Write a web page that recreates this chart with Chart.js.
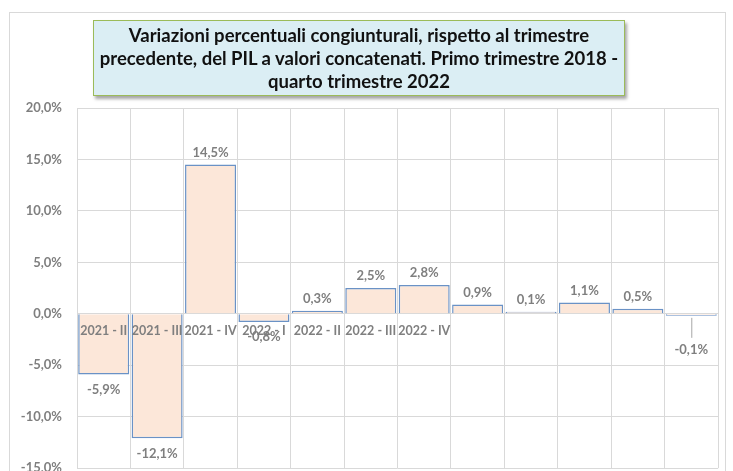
<!DOCTYPE html>
<html>
<head>
<meta charset="utf-8">
<script src="https://cdn.jsdelivr.net/npm/chart.js@4"></script>
<style>
  html, body { margin: 0; padding: 0; background: #fff; overflow: hidden; }
  #wrap { position: relative; width: 733px; height: 471px; overflow: hidden; }
  #frame { position: absolute; left: 9px; top: 12px; width: 715px; height: 480px; border: 1px solid #d9d9d9; }
  #box { position: absolute; left: 0; top: 0; width: 733px; height: 491px; }
  #title {
    position: absolute; left: 93px; top: 20px; width: 530px; height: 74px;
    background: #dbeef4; border: 1px solid #9bbb59;
    box-shadow: 2px 3px 3px rgba(0,0,0,.35);
    font: bold 18.5px Lato, sans-serif; line-height: 23px; color: #111;
    white-space: nowrap;
    text-align: center; display: flex; align-items: center; justify-content: center;
  }
</style>
</head>
<body>
<div id="wrap">
  <div id="frame"></div>
  <div id="box"><canvas id="pilChart"></canvas></div>
  <div id="title"><div>Variazioni percentuali congiunturali, rispetto al trimestre<br>precedente, del PIL a valori concatenati. Primo trimestre 2018 -<br>quarto trimestre 2022</div></div>
</div>
<script>
const categories = ['2021 - II', '2021 - III', '2021 - IV', '2022 - I', '2022 - II', '2022 - III', '2022 - IV', '', '', '', '', ''];
const values = [-5.9, -12.1, 14.5, -0.8, 0.3, 2.5, 2.8, 0.9, 0.1, 1.1, 0.5, -0.1];
const yTicks = [-15, -10, -5, 0, 5, 10, 15, 20];

const grey = '#7f7f7f';
const fmt = v => v.toFixed(1).replace('.', ',') + '%';

// etichette dei valori sopra / sotto le barre
const valueLabels = {
  id: 'valueLabels',
  afterDatasetsDraw(chart) {
    const ctx = chart.ctx;
    const meta = chart.getDatasetMeta(0);
    ctx.save();
    ctx.font = 'bold 13px Lato';
    ctx.fillStyle = grey;
    ctx.textAlign = 'center';
    ctx.textBaseline = 'middle';
    meta.data.forEach((bar, i) => {
      const v = values[i];
      if (v >= 0) {
        ctx.fillText(fmt(v), bar.x, bar.y - 12);
      } else if (Math.abs(bar.y - bar.base) < 3) {
        // barra troppo piccola: etichetta spostata con linea guida
        ctx.strokeStyle = '#a6a6a6';
        ctx.lineWidth = 1;
        ctx.beginPath();
        ctx.moveTo(bar.x + 0.5, bar.y + 2);
        ctx.lineTo(bar.x + 0.5, bar.y + 22);
        ctx.stroke();
        ctx.fillText(fmt(v), bar.x, bar.y + 34);
      } else {
        ctx.fillText(fmt(v), bar.x, bar.y + 15);
      }
    });
    ctx.restore();
  }
};

new Chart(document.getElementById('pilChart'), {
  type: 'bar',
  data: {
    labels: categories,
    datasets: [{
      data: values,
      backgroundColor: '#fce7d9',
      borderColor: '#6a92c6',
      borderWidth: 1.5,
      minBarLength: 2,
      categoryPercentage: 1,
      barPercentage: 0.955
    }]
  },
  options: {
    responsive: true,
    maintainAspectRatio: false,
    animation: false,
    layout: { padding: { left: 0, right: 15, top: 108, bottom: 9 } },
    plugins: {
      legend: { display: false },
      tooltip: { enabled: false }
    },
    scales: {
      x: {
        position: { y: 0 },
        offset: true,
        grid: { color: '#d9d9d9', drawTicks: false, offset: true },
        border: { display: false },
        ticks: {
          z: 1,
          autoSkip: false, maxRotation: 0, padding: 10,
          color: grey, font: { family: 'Lato', size: 12.5, weight: 'bold' }
        }
      },
      y: {
        min: yTicks[0],
        max: yTicks[yTicks.length - 1],
        afterBuildTicks: s => { s.ticks = yTicks.map(v => ({ value: v })); },
        afterFit: s => { s.width = 77; },
        grid: { color: '#d9d9d9', drawTicks: false },
        border: { display: false },
        ticks: {
          padding: 15,
          color: grey,
          font: { family: 'Lato', size: 13, weight: 'bold' },
          callback: v => fmt(v)
        }
      }
    }
  },
  plugins: [valueLabels]
});
</script>
</body>
</html>
